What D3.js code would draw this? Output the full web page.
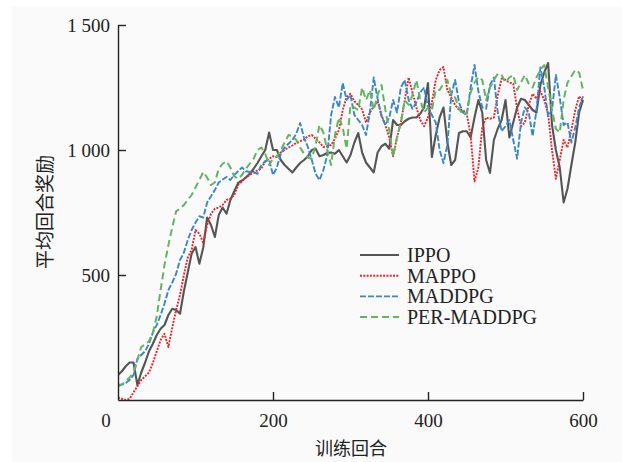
<!DOCTYPE html>
<html>
<head>
<meta charset="utf-8">
<script src="https://cdn.jsdelivr.net/npm/d3@7"></script>
<style>
  body { margin: 0; background: #fff; }
  text { fill: #222; }
</style>
</head>
<body>
<div id="chart"></div>
<script>
// episodes 0..600, step 5
const episodios = d3.range(0, 601, 5)

const ippo = [100,115,135,150,150,60,110,150,195,225,260,285,300,340,365,360,345,435,510,585,
  612,545,610,730,700,652,740,770,745,800,835,868,878,890,905,925,948,975,1000,1070,
  1000,1000,960,940,925,910,930,948,960,975,1000,1005,975,980,988,990,985,1000,975,950,
  980,1030,1068,990,950,930,910,990,1015,1025,1005,1120,1100,1100,1115,1125,1130,1130,1145,1170,
  1268,972,1060,1130,1170,1030,940,960,1068,1075,1075,1050,1130,1200,1150,960,908,1040,1085,1120,
  1200,1050,1110,1170,1205,1200,1180,1160,1150,1260,1310,1348,1100,1000,930,790,845,940,1030,1150,1200]

const mappo = [10,5,0,5,30,55,80,95,110,148,195,240,265,212,290,360,420,500,570,600,
  680,665,630,700,745,765,770,780,800,805,820,860,875,890,900,912,918,925,955,965,
  975,972,990,1000,1010,1018,1028,1035,1042,1055,1060,1045,1030,1012,1015,1020,1045,1080,1160,1212,
  1225,1195,1180,1162,1110,1150,1175,1195,1140,1100,1050,975,1050,1110,1200,1290,1230,1170,1120,1095,
  1130,1190,1280,1320,1332,1240,1210,1180,1160,1160,1145,1060,875,930,1090,1130,1125,1130,1220,1285,
  1280,1270,1265,1165,1095,1110,1180,1225,1205,1235,1200,1145,1000,885,960,1040,1010,1080,1160,1215,1190]

const maddpg = [60,62,68,80,100,165,180,195,225,270,300,340,385,440,470,505,560,590,640,680,
  710,735,730,790,815,840,870,882,892,880,900,915,930,915,912,910,905,940,955,960,
  900,930,985,1010,1025,1040,1065,1108,1050,1012,960,905,880,920,980,1140,1212,1170,1268,1200,
  1220,1140,1120,1100,1060,1150,1290,1205,1135,1100,1130,1200,1150,1250,1280,1200,1165,1190,1230,1250,
  1170,1140,1110,1000,948,1020,1220,1280,1190,1150,1140,1250,1340,1235,1170,1165,1260,1290,1150,1075,
  1095,1120,1040,965,1110,1170,1150,1055,1160,1330,1250,1135,1160,1300,1210,1100,1110,1030,1090,1170,1215]

const perMaddpg = [55,62,75,90,110,160,212,222,235,270,335,440,540,620,690,755,765,780,800,820,
  850,880,912,890,860,870,925,945,955,930,895,885,900,925,945,965,1000,1010,985,940,
  965,975,1000,1030,1060,1055,1040,1010,985,970,965,1020,1100,1070,1000,940,1060,1130,1090,1005,
  1180,1170,1160,1250,1200,1240,1160,1220,1260,1160,1080,975,1050,1110,1200,1180,1220,1280,1200,1150,
  1170,1160,1240,1240,1265,1280,1220,1210,1165,1140,1150,1230,1270,1292,1280,1200,1250,1280,1305,1300,
  1270,1290,1300,1240,1270,1300,1265,1250,1290,1320,1340,1250,1160,1085,1070,1200,1270,1295,1320,1310,1240]

const nombres = ["IPPO", "MAPPO", "MADDPG", "PER-MADDPG"]
const colores = ["#555555", "#e3262a", "#3a86c8", "#62b462"]
const guiones = [null, "2,1.3", "6,2", "7,4"]
const anchos = [2.1, 1.9, 1.9, 2]
const series = [ippo, mappo, maddpg, perMaddpg]

const xTicks = [200, 400, 600]
const yTicks = [500, 1000, 1500]

const ancho = 622, alto = 462
const svg = d3.select("#chart").append("svg")
  .attr("width", ancho)
  .attr("height", alto)

svg.append("rect")
  .attr("x", 12).attr("y", 7)
  .attr("width", ancho - 12).attr("height", alto - 7)
  .attr("fill", "#fafafa")

const x = d3.scaleLinear().domain([0, 600]).range([118, 583])
const y = d3.scaleLinear().domain([0, 1500]).range([400, 25])

const loc = d3.formatLocale({ decimal: ".", thousands: " ", grouping: [3], currency: ["", ""] })
const fmt = loc.format(",")

svg.append("clipPath").attr("id", "area")
  .append("rect").attr("x", 118).attr("y", 20).attr("width", 470).attr("height", 380)

// lineas
const linea = d3.line()
  .x((d, i) => x(episodios[i]))
  .y(d => y(d))

series.forEach((s, k) => {
  svg.append("path")
    .datum(s)
    .attr("clip-path", "url(#area)")
    .attr("d", linea)
    .attr("fill", "none")
    .attr("stroke", colores[k])
    .attr("stroke-width", anchos[k])
    .attr("stroke-dasharray", guiones[k])
    .attr("stroke-linejoin", "round")
})

// ejes
const ejeY = svg.append("g")
  .attr("transform", "translate(118,0)")
  .call(d3.axisLeft(y).tickValues(yTicks).tickFormat(fmt).tickSizeInner(-8).tickSizeOuter(0).tickPadding(8))
const ejeX = svg.append("g")
  .attr("transform", "translate(0,400)")
  .call(d3.axisBottom(x).tickValues(xTicks).tickFormat(fmt).tickSizeInner(-8).tickSizeOuter(0).tickPadding(14))

;[ejeY, ejeX].forEach(g => {
  g.select(".domain").attr("stroke", "#222").attr("stroke-width", 1.4)
  g.selectAll(".tick line").attr("stroke", "#222").attr("stroke-width", 1.4)
  g.selectAll("text")
    .attr("fill", "#222")
    .style("font-family", "'Liberation Serif', 'Times New Roman', serif")
    .style("font-size", "19px")
})

svg.append("text")
  .attr("x", 106).attr("y", 427)
  .attr("text-anchor", "middle")
  .style("font-family", "'Liberation Serif', serif")
  .style("font-size", "19px")
  .text("0")

// titulos de ejes
svg.append("text")
  .attr("transform", "translate(52,212) rotate(-90)")
  .attr("text-anchor", "middle")
  .style("font-family", "'Noto Sans CJK SC', sans-serif")
  .style("font-size", "19px")
  .text("平均回合奖励")

svg.append("text")
  .attr("x", 351).attr("y", 455)
  .attr("text-anchor", "middle")
  .style("font-family", "'Noto Sans CJK SC', sans-serif")
  .style("font-size", "18px")
  .text("训练回合")

// leyenda
const ley = svg.append("g").attr("transform", "translate(360,255)")
nombres.forEach((n, k) => {
  const fila = ley.append("g").attr("transform", "translate(0," + (k * 20.7) + ")")
  fila.append("line")
    .attr("x1", 0).attr("x2", 39).attr("y1", 0).attr("y2", 0)
    .attr("stroke", colores[k])
    .attr("stroke-width", anchos[k])
    .attr("stroke-dasharray", guiones[k])
  fila.append("text")
    .attr("x", 47).attr("y", 0).attr("dy", "0.35em")
    .style("font-family", "'Liberation Serif', serif")
    .style("font-size", "20px")
    .text(n)
})
</script>
</body>
</html>
